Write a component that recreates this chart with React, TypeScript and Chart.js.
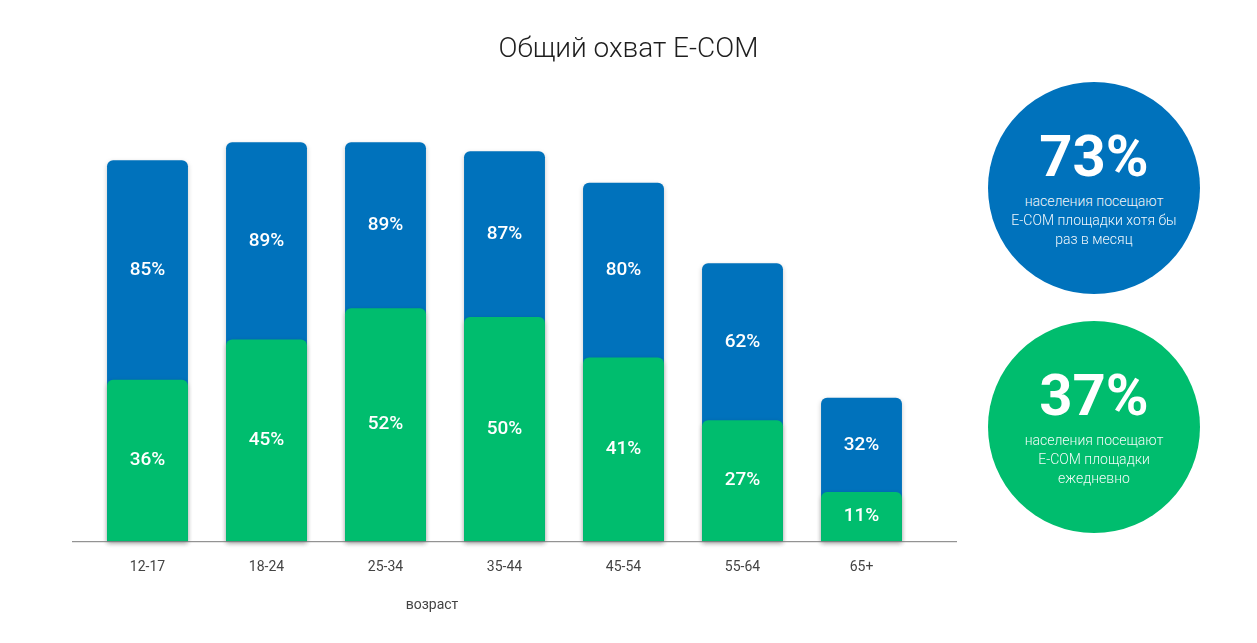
import React, { useEffect, useRef } from 'react';
import { Chart, registerables } from 'chart.js';

Chart.register(...registerables);

// Age groups along the x axis
const ageGroups = ['12-17', '18-24', '25-34', '35-44', '45-54', '55-64', '65+'];
// Share of each group visiting E-COM sites at least once a month, %
const monthlyReach = [85, 89, 89, 87, 80, 62, 32];
// Share of each group visiting E-COM sites every day, %
const dailyReach = [36, 45, 52, 50, 41, 27, 11];

// Totals shown in the side badges, %
const monthlyTotal = 73;
const dailyTotal = 37;

const BLUE = '#0072BC';
const GREEN = '#00BD6E';
const FONT = 'Roboto, "Noto Sans", sans-serif';

// Soft drop shadow under the bars
const shadowPlugin = {
  id: 'barShadow',
  beforeDatasetDraw(chart: any) {
    const ctx = chart.ctx;
    ctx.save();
    ctx.shadowColor = 'rgba(0,0,0,0.22)';
    ctx.shadowBlur = 5;
    ctx.shadowOffsetY = 2;
  },
  afterDatasetDraw(chart: any) {
    chart.ctx.restore();
  },
};

// Thin baseline that runs a little past the bars on both sides
const baselinePlugin = {
  id: 'baseline',
  afterDatasetsDraw(chart: any) {
    const { ctx, chartArea } = chart;
    const y = chart.scales.y.getPixelForValue(0) + 0.5;
    ctx.save();
    ctx.strokeStyle = '#7a7a7a';
    ctx.lineWidth = 1;
    ctx.beginPath();
    ctx.moveTo(chartArea.left - 16, y);
    ctx.lineTo(chartArea.right + 36, y);
    ctx.stroke();
    ctx.restore();
  },
};

// Percent labels centred in the visible part of each bar
const valueLabelPlugin = {
  id: 'valueLabels',
  afterDatasetsDraw(chart: any) {
    const { ctx } = chart;
    const dailyMeta = chart.getDatasetMeta(0);
    const monthlyMeta = chart.getDatasetMeta(1);
    ctx.save();
    ctx.fillStyle = '#ffffff';
    ctx.font = `500 19px ${FONT}`;
    ctx.textAlign = 'center';
    ctx.textBaseline = 'middle';
    ageGroups.forEach((_, i) => {
      const d = dailyMeta.data[i];
      const m = monthlyMeta.data[i];
      ctx.fillText(`${monthlyReach[i]}%`, m.x, (m.y + d.y) / 2);
      ctx.fillText(`${dailyReach[i]}%`, d.x, (d.y + d.base) / 2);
    });
    ctx.restore();
  },
};

function Badge(props: { color: string; value: number; lines: string[]; top: number }) {
  const { color, value, lines, top } = props;
  return (
    <div
      style={{
        position: 'absolute',
        left: 988,
        top,
        width: 212,
        height: 212,
        borderRadius: '50%',
        background: color,
        color: '#fff',
        display: 'flex',
        flexDirection: 'column',
        alignItems: 'center',
        justifyContent: 'center',
        fontFamily: FONT,
        textAlign: 'center',
      }}
    >
      <div style={{ fontSize: 58, fontWeight: 700, lineHeight: '58px', marginBottom: 7 }}>{value}%</div>
      {lines.map((l) => (
        <div key={l} style={{ fontSize: 14, fontWeight: 300, lineHeight: '19px', opacity: 0.95 }}>
          {l}
        </div>
      ))}
    </div>
  );
}

export default function App() {
  const canvasRef = useRef<HTMLCanvasElement>(null);

  useEffect(() => {
    if (!canvasRef.current) return;
    const chart = new Chart(canvasRef.current, {
      type: 'bar',
      data: {
        labels: ageGroups,
        datasets: [
          {
            label: 'ежедневно',
            data: dailyReach,
            backgroundColor: GREEN,
          },
          {
            label: 'хотя бы раз в месяц',
            data: monthlyReach,
            backgroundColor: BLUE,
          },
        ],
      },
      options: {
        animation: false,
        responsive: false,
        events: [],
        layout: { padding: { left: 88, right: 336, top: 93, bottom: 49 } },
        datasets: {
          bar: {
            grouped: false,
            categoryPercentage: 1,
            barPercentage: 0.68,
            borderRadius: { topLeft: 6, topRight: 6, bottomLeft: 0, bottomRight: 0 },
            clip: false as any,
          },
        },
        plugins: {
          legend: { display: false },
          tooltip: { enabled: false },
          title: { display: false },
        },
        scales: {
          x: {
            grid: { display: false, drawTicks: false },
            border: { display: false },
            ticks: { color: '#444', font: { family: FONT, size: 14 }, padding: 18 },
          },
          y: { display: false, min: 0, max: 100 },
        },
      },
      plugins: [shadowPlugin, baselinePlugin, valueLabelPlugin],
    });
    return () => chart.destroy();
  }, []);

  return (
    <div style={{ position: 'absolute', left: 0, top: 0, width: 1257, height: 643, background: '#fff', fontFamily: FONT }}>
      <canvas ref={canvasRef} width={1257} height={643} style={{ display: 'block', position: 'absolute', left: 0, top: 0 }} />
      <div
        style={{
          position: 'absolute',
          left: 0,
          top: 30,
          width: 1257,
          textAlign: 'center',
          fontSize: 28,
          fontWeight: 300,
          color: '#1e1e1e',
          lineHeight: '36px',
        }}
      >
        Общий охват E-COM
      </div>
      <div
        style={{
          position: 'absolute',
          left: 332,
          top: 594,
          width: 200,
          textAlign: 'center',
          fontSize: 14,
          color: '#444',
          lineHeight: '20px',
        }}
      >
        возраст
      </div>
      <Badge color={BLUE} value={monthlyTotal} lines={['населения посещают', 'E-COM площадки хотя бы', 'раз в месяц']} top={82} />
      <Badge color={GREEN} value={dailyTotal} lines={['населения посещают', 'E-COM площадки', 'ежедневно']} top={321} />
    </div>
  );
}
